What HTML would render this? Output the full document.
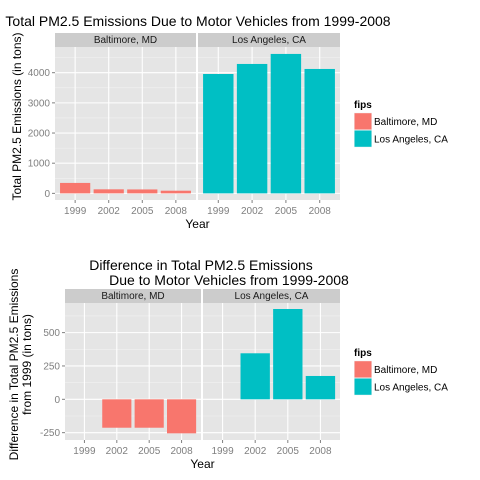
<!DOCTYPE html>
<html><head><meta charset="utf-8"><style>
body{margin:0;background:#fff}
svg{display:block;font-family:"Liberation Sans",Arial,sans-serif}
</style></head><body>
<svg id="c" width="480" height="480" viewBox="0 0 480 480"></svg>
<script>
const years=["1999","2002","2005","2008"];
const cities=["Baltimore, MD","Los Angeles, CA"];
const totalBalt=[346,134,130,88];
const totalLA=[3957,4290,4622,4124];
const diffBalt=[0,-213,-213,-255];
const diffLA=[0,345,677,175];
const topTicks=[0,1000,2000,3000,4000];
const botTicks=[-250,0,250,500];
const colors=["#F8766D","#00BFC4"];
const NS="http://www.w3.org/2000/svg";
const svg=document.getElementById('c');
function el(t,a,p){const e=document.createElementNS(NS,t);for(const k in a)e.setAttribute(k,a[k]);(p||svg).appendChild(e);return e;}
function txt(s,a,p){const e=el('text',a,p);e.textContent=s;return e;}

function chart(cfg){
  const g=el('g',{});
  
  
  const y=v=>cfg.y0+(v-cfg.vmin)*(cfg.y1-cfg.y0)/(cfg.vmax-cfg.vmin);
  cfg.panels.forEach((px,pi)=>{
    const [xl,xr]=px;
    const unit=(xr-xl)/4.2;
    const x=i=>xl+(i+0.6)*unit;
    const pg=el('g',{},g);
    
    
    el('rect',{x:xl,y:cfg.y1,width:xr-xl,height:cfg.y0-cfg.y1,fill:'#E5E5E5'},pg);
    // minor grid
    for(let k=0;k<cfg.ticks.length-1;k++){const m=(cfg.ticks[k]+cfg.ticks[k+1])/2;el('line',{x1:xl,x2:xr,y1:y(m),y2:y(m),stroke:'#F2F2F2','stroke-width':0.6},pg);}
    const mAbove=cfg.ticks[cfg.ticks.length-1]+(cfg.ticks[1]-cfg.ticks[0])/2;
    if(mAbove<cfg.vmax)el('line',{x1:xl,x2:xr,y1:y(mAbove),y2:y(mAbove),stroke:'#F2F2F2','stroke-width':0.6},pg);
    const mBelow=cfg.ticks[0]-(cfg.ticks[1]-cfg.ticks[0])/2;
    if(mBelow>cfg.vmin)el('line',{x1:xl,x2:xr,y1:y(mBelow),y2:y(mBelow),stroke:'#F2F2F2','stroke-width':0.6},pg);
    cfg.ticks.forEach(t=>el('line',{x1:xl,x2:xr,y1:y(t),y2:y(t),stroke:'#fff','stroke-width':1.1},pg));
    years.forEach((yr,i)=>{
      el('line',{x1:x(i),x2:x(i),y1:cfg.y1,y2:cfg.y0,stroke:'#fff','stroke-width':1.1},pg);
      el('line',{x1:x(i),x2:x(i),y1:cfg.y0,y2:cfg.y0+3,stroke:'#7F7F7F'},pg);
      const tl=txt(yr,{x:x(i),y:cfg.y0+14,'text-anchor':'middle','font-size':10,fill:'#7F7F7F'},pg);
      
      
    });
    const vals=cfg.data[pi];
    vals.forEach((v,i)=>{
      if(v===0)return;
      const a=y(v),b=y(0);
      const r=el('rect',{x:x(i)-0.45*unit,width:0.9*unit,y:Math.min(a,b),height:Math.abs(a-b),fill:colors[pi]},pg);
      
      
    });
    el('rect',{x:xl,y:cfg.y1-14,width:xr-xl,height:14,fill:'#CCCCCC'},pg);
    const st=txt(cities[pi],{x:(xl+xr)/2,y:cfg.y1-4,'text-anchor':'middle','font-size':10,fill:'#1a1a1a'},pg);
    
    
  });
  const xl=cfg.panels[0][0];
  cfg.ticks.forEach(t=>{
    el('line',{x1:xl-3,x2:xl,y1:y(t),y2:y(t),stroke:'#7F7F7F'},g);
    const tl=txt(String(t),{x:xl-5,y:y(t)+3.5,'text-anchor':'end','font-size':10,fill:'#7F7F7F'},g);
    
    
  });
  const xt=txt('Year',{x:(cfg.panels[0][0]+cfg.panels[1][1])/2,y:cfg.y0+28,'text-anchor':'middle','font-size':12,fill:'#000'},g);
  
  
  cfg.ytitle.forEach((s,k)=>{
    const cy=(cfg.y0+cfg.y1-14)/2;
    const xx=cfg.ytx+k*13;
    const yt=txt(s,{x:xx,y:cy,'text-anchor':'middle','font-size':12,fill:'#000',transform:`rotate(-90 ${xx} ${cy})`},g);
    
    
  });
  cfg.title.forEach((s,k)=>{
    const tt=txt(s,{x:cfg.tx[k],y:cfg.ty+k*15,'text-anchor':'middle','font-size':14,fill:'#000'},g);
    
    
  });
  const lg=el('g',{},g);
  
  
  txt('fips',{x:354,y:cfg.ly,'font-size':10,'font-weight':'bold',fill:'#000'},lg);
  cities.forEach((c,k)=>{
    const top=cfg.ly+4.7+k*17.3;
    el('rect',{x:354,y:top,width:18,height:17.3,fill:'#F2F2F2'},lg);
    el('rect',{x:354.5,y:top+0.5,width:17,height:16.3,fill:colors[k]},lg);
    const le=txt(c,{x:374,y:top+12.5,'font-size':10,fill:'#000'},lg);
    
    
  });
}
chart({name:'total-emissions-chart',panels:[[55,196],[198,340]],y0:200,y1:47,vmin:-220,vmax:4852,ticks:topTicks,
  data:[totalBalt,totalLA],ytitle:['Total PM2.5 Emissions (in tons)'],ytx:21,
  title:['Total PM2.5 Emissions Due to Motor Vehicles from 1999-2008'],tx:[198],ty:26,ly:108});
chart({name:'difference-chart',panels:[[65,201],[203,340]],y0:440,y1:303,vmin:-305,vmax:722,ticks:botTicks,
  data:[diffBalt,diffLA],ytitle:['Difference in Total PM2.5 Emissions','from 1999 (in tons)'],ytx:18,
  title:['Difference in Total PM2.5 Emissions','Due to Motor Vehicles from 1999-2008'],tx:[201,229],ty:270,ly:356});
</script>
</body></html>
